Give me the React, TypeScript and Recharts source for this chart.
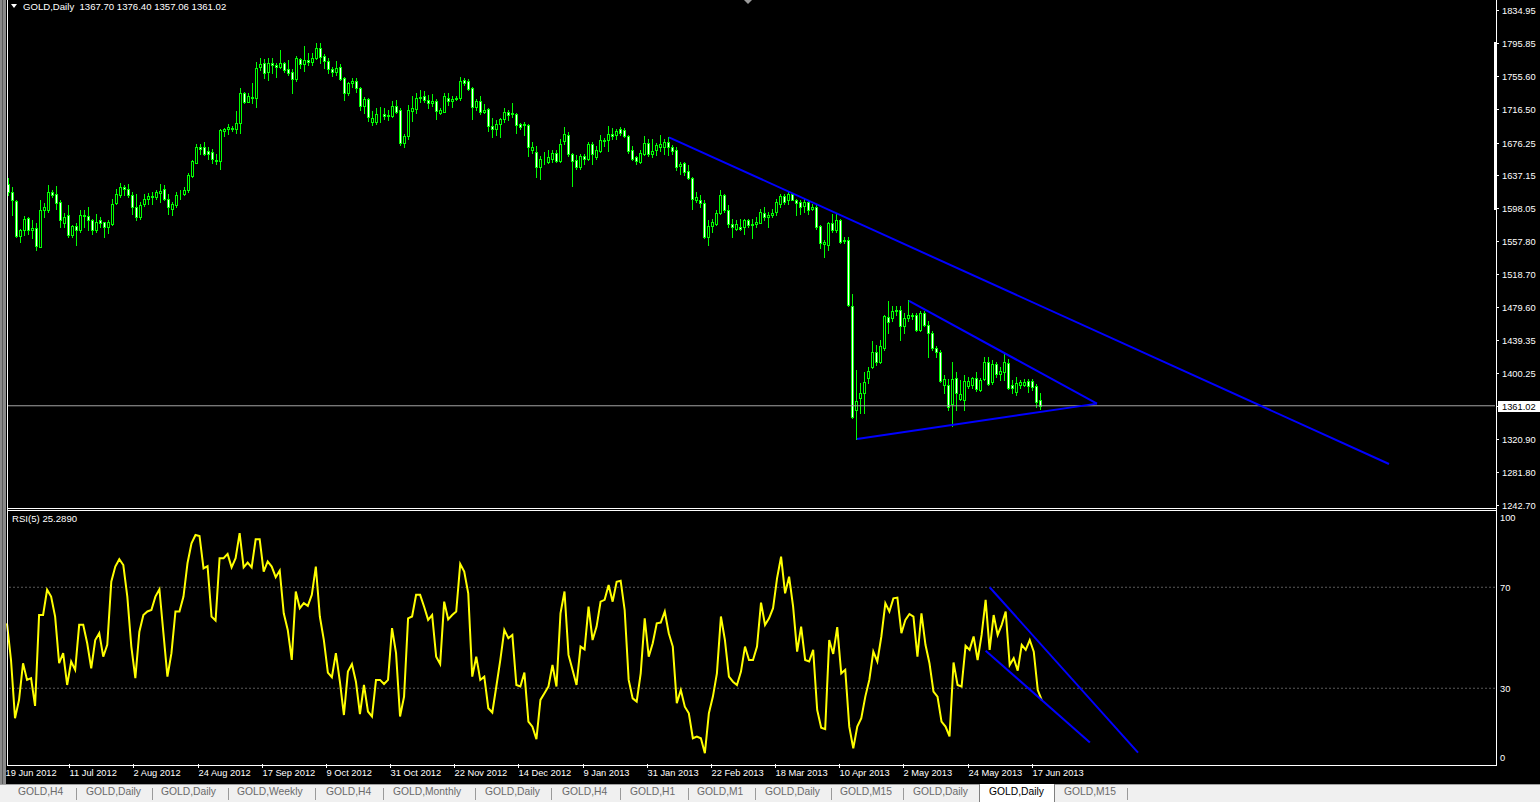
import { ComposedChart, LineChart, Bar, Line, XAxis, YAxis, ReferenceLine } from "recharts";

const FONT = '"Liberation Sans", Arial, sans-serif';

const SYMBOL = "GOLD,Daily";
const LAST_OHLC = ["1367.70", "1376.40", "1357.06", "1361.02"];
const BID = 1361.02;
const RSI_NAME = "RSI(5) 25.2890";

// daily bars, 19 Jun 2012 .. 19 Jun 2013
const OPEN = [
  1627, 1617, 1606, 1564, 1571, 1586, 1571, 1574, 1551, 1596,
  1595, 1617, 1615, 1605, 1580, 1589, 1566, 1576, 1571, 1589,
  1588, 1583, 1572, 1583, 1581, 1575, 1579, 1604, 1613, 1623,
  1621, 1614, 1599, 1587, 1603, 1609, 1612, 1611, 1616, 1621,
  1609, 1597, 1602, 1615, 1615, 1619, 1636, 1652, 1671, 1671,
  1666, 1665, 1655, 1654, 1690, 1692, 1694, 1692, 1700, 1735,
  1725, 1731, 1730, 1767, 1771, 1761, 1771, 1769, 1767, 1771,
  1764, 1761, 1752, 1776, 1770, 1775, 1773, 1777, 1789, 1780,
  1774, 1764, 1761, 1767, 1753, 1736, 1747, 1750, 1741, 1720,
  1728, 1701, 1701, 1711, 1711, 1708, 1708, 1720, 1715, 1676,
  1684, 1714, 1716, 1730, 1732, 1727, 1724, 1726, 1712, 1713,
  1730, 1726, 1728, 1729, 1751, 1750, 1742, 1719, 1726, 1713,
  1716, 1696, 1693, 1699, 1704, 1713, 1710, 1710, 1698, 1697,
  1697, 1667, 1665, 1647, 1656, 1653, 1657, 1664, 1654, 1678,
  1685, 1662, 1655, 1647, 1660, 1657, 1675, 1659, 1666, 1679,
  1679, 1687, 1685, 1692, 1691, 1684, 1667, 1659, 1653, 1663,
  1676, 1663, 1667, 1671, 1671, 1677, 1671, 1667, 1648, 1652,
  1642, 1634, 1607, 1608, 1604, 1563, 1576, 1579, 1592, 1613,
  1596, 1579, 1573, 1575, 1575, 1584, 1577, 1579, 1580, 1592,
  1587, 1590, 1593, 1603, 1612, 1607, 1615, 1608, 1605, 1600,
  1605, 1597, 1599, 1576, 1555, 1553, 1580, 1571, 1584, 1558,
  1560, 1481, 1356, 1370, 1376, 1394, 1408, 1426, 1413, 1430,
  1467, 1466, 1474, 1476, 1456, 1466, 1470, 1470, 1452, 1472,
  1458, 1448, 1430, 1425, 1386, 1386, 1363, 1394, 1369, 1368,
  1385, 1386, 1394, 1380, 1393, 1414, 1389, 1411, 1399, 1401,
  1412, 1386, 1377, 1386, 1386, 1391, 1391, 1385, 1367.7,
];

const HIGH = [
  1634, 1623, 1607, 1573, 1588, 1587, 1583, 1580, 1607, 1604,
  1625, 1620, 1624, 1607, 1592, 1601, 1577, 1580, 1596, 1595,
  1599, 1585, 1591, 1587, 1581, 1584, 1609, 1621, 1628, 1625,
  1627, 1617, 1615, 1605, 1615, 1616, 1617, 1619, 1627, 1625,
  1615, 1605, 1617, 1620, 1623, 1640, 1655, 1674, 1674, 1677,
  1671, 1669, 1663, 1692, 1694, 1698, 1696, 1714, 1741, 1737,
  1735, 1747, 1773, 1777, 1776, 1777, 1778, 1772, 1787, 1773,
  1775, 1764, 1780, 1778, 1792, 1784, 1784, 1795, 1795, 1782,
  1777, 1767, 1774, 1770, 1755, 1749, 1753, 1753, 1743, 1731,
  1730, 1714, 1717, 1719, 1717, 1715, 1726, 1727, 1717, 1686,
  1721, 1732, 1736, 1739, 1738, 1733, 1734, 1728, 1717, 1735,
  1736, 1732, 1732, 1755, 1753, 1752, 1743, 1728, 1732, 1722,
  1717, 1706, 1703, 1706, 1717, 1715, 1724, 1712, 1700, 1701,
  1699, 1677, 1672, 1660, 1665, 1667, 1667, 1667, 1680, 1695,
  1689, 1664, 1661, 1662, 1663, 1677, 1677, 1672, 1685, 1682,
  1696, 1694, 1692, 1695, 1694, 1685, 1672, 1660, 1667, 1684,
  1681, 1681, 1676, 1685, 1681, 1683, 1673, 1671, 1653, 1653,
  1649, 1635, 1617, 1613, 1607, 1584, 1585, 1596, 1619, 1615,
  1601, 1585, 1583, 1585, 1585, 1585, 1585, 1587, 1597, 1599,
  1593, 1597, 1609, 1615, 1615, 1617, 1616, 1609, 1607, 1609,
  1607, 1603, 1603, 1577, 1560, 1581, 1591, 1591, 1585, 1563,
  1563, 1495, 1404, 1388, 1402, 1407, 1438, 1434, 1440, 1470,
  1486, 1480, 1480, 1480, 1472, 1488, 1472, 1472, 1474, 1474,
  1462, 1450, 1432, 1428, 1398, 1393, 1414, 1401, 1392, 1398,
  1396, 1396, 1402, 1394, 1420, 1420, 1416, 1414, 1408, 1424,
  1417, 1392, 1396, 1392, 1393, 1393, 1393, 1387, 1376.4,
];

const LOW = [
  1613, 1589, 1563, 1557, 1565, 1567, 1562, 1547, 1551, 1587,
  1593, 1611, 1597, 1575, 1575, 1563, 1563, 1554, 1569, 1575,
  1571, 1567, 1569, 1575, 1563, 1568, 1577, 1603, 1611, 1613,
  1611, 1591, 1584, 1585, 1600, 1603, 1603, 1609, 1605, 1607,
  1591, 1589, 1599, 1609, 1613, 1617, 1635, 1652, 1663, 1661,
  1656, 1652, 1651, 1645, 1684, 1686, 1690, 1688, 1688, 1724,
  1725, 1723, 1719, 1763, 1754, 1751, 1759, 1755, 1765, 1761,
  1757, 1736, 1750, 1766, 1762, 1769, 1769, 1776, 1772, 1766,
  1759, 1756, 1757, 1751, 1727, 1733, 1743, 1737, 1715, 1712,
  1702, 1697, 1699, 1701, 1705, 1703, 1707, 1712, 1673, 1671,
  1681, 1702, 1712, 1725, 1725, 1717, 1720, 1704, 1710, 1713,
  1721, 1719, 1727, 1727, 1745, 1739, 1705, 1715, 1710, 1712,
  1690, 1683, 1685, 1683, 1701, 1703, 1707, 1688, 1693, 1685,
  1660, 1664, 1635, 1633, 1651, 1652, 1653, 1653, 1653, 1675,
  1660, 1624, 1644, 1645, 1651, 1655, 1651, 1656, 1665, 1672,
  1666, 1681, 1681, 1685, 1683, 1664, 1655, 1651, 1652, 1661,
  1660, 1659, 1661, 1666, 1663, 1661, 1663, 1643, 1639, 1637,
  1633, 1597, 1605, 1599, 1562, 1553, 1569, 1577, 1591, 1593,
  1575, 1563, 1571, 1571, 1567, 1575, 1562, 1575, 1580, 1583,
  1575, 1587, 1589, 1599, 1603, 1603, 1607, 1589, 1591, 1593,
  1591, 1595, 1573, 1550, 1539, 1547, 1569, 1569, 1556, 1556,
  1480, 1346, 1321, 1352, 1352, 1388, 1406, 1410, 1412, 1428,
  1448, 1463, 1470, 1440, 1448, 1462, 1465, 1450, 1450, 1456,
  1420, 1428, 1420, 1390, 1376, 1356, 1337, 1356, 1368, 1356,
  1382, 1382, 1379, 1379, 1392, 1386, 1387, 1396, 1392, 1392,
  1381, 1376, 1374, 1382, 1385, 1378, 1380, 1360, 1357.06,
];

const CLOSE = [
  1617, 1607, 1564, 1571, 1585, 1572, 1574, 1552, 1596, 1599,
  1617, 1614, 1604, 1583, 1587, 1566, 1576, 1571, 1589, 1588,
  1583, 1572, 1581, 1580, 1575, 1581, 1603, 1615, 1623, 1621,
  1613, 1599, 1587, 1602, 1609, 1612, 1611, 1617, 1618, 1609,
  1599, 1603, 1614, 1615, 1620, 1637, 1654, 1671, 1669, 1663,
  1663, 1656, 1654, 1691, 1692, 1695, 1692, 1700, 1735, 1725,
  1732, 1730, 1766, 1770, 1760, 1772, 1769, 1767, 1772, 1763,
  1760, 1752, 1777, 1770, 1775, 1773, 1777, 1790, 1779, 1774,
  1764, 1761, 1766, 1752, 1736, 1747, 1750, 1741, 1720, 1728,
  1707, 1706, 1711, 1710, 1708, 1709, 1720, 1713, 1676, 1684,
  1715, 1717, 1730, 1731, 1727, 1724, 1726, 1714, 1715, 1732,
  1726, 1728, 1730, 1750, 1748, 1740, 1719, 1726, 1713, 1715,
  1696, 1693, 1699, 1704, 1713, 1709, 1712, 1697, 1695, 1699,
  1671, 1671, 1647, 1656, 1657, 1659, 1664, 1654, 1675, 1686,
  1662, 1654, 1647, 1660, 1657, 1675, 1662, 1667, 1679, 1678,
  1687, 1684, 1690, 1688, 1684, 1666, 1657, 1654, 1664, 1676,
  1662, 1666, 1673, 1674, 1677, 1671, 1666, 1647, 1651, 1641,
  1634, 1609, 1611, 1604, 1563, 1576, 1581, 1592, 1613, 1595,
  1579, 1575, 1579, 1573, 1583, 1577, 1579, 1581, 1593, 1587,
  1589, 1592, 1605, 1612, 1605, 1615, 1608, 1604, 1599, 1605,
  1596, 1599, 1575, 1556, 1557, 1580, 1571, 1584, 1557, 1559,
  1482, 1347, 1367, 1376, 1390, 1403, 1426, 1413, 1432, 1468,
  1461, 1474, 1476, 1456, 1466, 1470, 1468, 1452, 1472, 1458,
  1448, 1430, 1425, 1391, 1393, 1359, 1393, 1376, 1375, 1391,
  1391, 1394, 1381, 1392, 1413, 1387, 1411, 1399, 1403, 1413,
  1382, 1382, 1388, 1389, 1390, 1385, 1384, 1366, 1361.02,
];

const RSI = [
  55.7, 41.2, 18.1, 25.4, 39.9, 33.3, 34.0, 23.0, 59.0, 59.0,
  69.0, 66.3, 58.4, 39.9, 43.9, 31.3, 40.6, 37.3, 55.1, 55.1,
  47.8, 37.9, 49.1, 51.8, 42.5, 47.2, 72.2, 78.2, 81.1, 78.8,
  66.3, 46.5, 34.0, 52.4, 59.0, 60.4, 61.0, 66.3, 69.2, 51.8,
  34.6, 43.9, 60.4, 60.4, 66.3, 79.5, 87.4, 90.7, 90.3, 77.5,
  78.4, 58.4, 56.8, 81.5, 81.5, 83.2, 77.9, 81.5, 91.4, 77.9,
  79.8, 77.9, 89.0, 89.0, 76.2, 80.2, 78.2, 74.0, 76.6, 59.7,
  53.1, 41.2, 68.3, 61.7, 63.7, 62.6, 67.0, 78.2, 58.4, 49.1,
  36.2, 34.4, 43.9, 32.6, 19.4, 36.6, 39.6, 32.6, 19.8, 31.3,
  20.8, 18.8, 33.3, 33.3, 31.7, 33.3, 53.8, 43.9, 18.8, 26.7,
  57.7, 58.4, 67.0, 67.0, 62.3, 57.1, 59.0, 42.5, 39.6, 64.3,
  57.3, 59.0, 60.4, 79.2, 76.2, 67.6, 34.6, 42.5, 33.3, 34.6,
  22.1, 20.4, 30.7, 41.2, 53.1, 49.8, 51.1, 31.3, 30.7, 36.2,
  16.8, 14.8, 9.8, 25.4, 28.0, 30.7, 39.2, 30.7, 59.7, 68.3,
  43.2, 37.3, 31.3, 46.5, 45.4, 62.3, 49.1, 54.4, 64.3, 65.0,
  70.9, 64.3, 72.2, 72.6, 61.0, 33.3, 26.0, 24.7, 35.9, 57.7,
  42.5, 47.8, 55.7, 56.0, 60.4, 51.8, 46.5, 24.1, 29.3, 22.7,
  20.1, 10.2, 10.9, 10.2, 4.3, 20.1, 26.7, 35.9, 58.4, 49.1,
  34.6, 32.6, 31.3, 36.6, 46.5, 41.2, 41.2, 46.5, 63.9, 55.1,
  57.7, 61.7, 73.6, 82.1, 67.6, 74.2, 62.3, 44.5, 54.4, 41.2,
  40.6, 45.2, 21.4, 14.4, 13.8, 49.1, 43.6, 54.2, 35.9, 37.3,
  14.8, 6.2, 14.8, 18.1, 26.7, 33.3, 44.5, 40.6, 50.5, 63.7,
  60.4, 65.6, 65.9, 51.8, 57.1, 59.4, 58.4, 42.5, 59.7, 47.2,
  39.9, 28.7, 26.7, 16.8, 14.8, 10.9, 40.2, 31.3, 30.7, 46.8,
  45.2, 50.5, 41.2, 51.1, 65.0, 45.2, 59.0, 51.1, 55.1, 60.4,
  39.2, 41.9, 37.0, 47.2, 45.2, 49.1, 44.5, 29.3, 25.289,
];

// bar slots shown across the window (the rest is empty space to the right)
const SLOTS = 372;

const PRICE_TICKS = [
  1834.95, 1795.85, 1755.6, 1716.5, 1676.25, 1637.15, 1598.05, 1557.8,
  1518.7, 1479.6, 1439.35, 1400.25, 1361.02, 1320.9, 1281.8, 1242.7,
];
const RSI_TICKS = [0, 30, 70, 100];

const DATE_TICKS = [0, 16, 32, 48, 64, 80, 96, 112, 128, 144, 160, 176, 192, 208, 224, 240, 256];
const DATE_LABELS = [
  "19 Jun 2012", "11 Jul 2012", "2 Aug 2012", "24 Aug 2012", "17 Sep 2012",
  "9 Oct 2012", "31 Oct 2012", "22 Nov 2012", "14 Dec 2012", "9 Jan 2013",
  "31 Jan 2013", "22 Feb 2013", "18 Mar 2013", "10 Apr 2013", "2 May 2013",
  "24 May 2013", "17 Jun 2013",
];

// hand drawn trend lines: [bar, price] -> [bar, price]
const PRICE_TRENDS = [
  [165, 1682.5, 345, 1291.3],
  [225, 1486.5, 272, 1363.6],
  [212, 1321.2, 272, 1363.6],
];
const RSI_TRENDS = [
  [245, 70, 282, 4.5],
  [244, 44.9, 270, 8.5],
];

const TABS = [
  { label: "GOLD,H4", x: 18 },
  { label: "GOLD,Daily", x: 86 },
  { label: "GOLD,Daily", x: 161 },
  { label: "GOLD,Weekly", x: 237 },
  { label: "GOLD,H4", x: 326 },
  { label: "GOLD,Monthly", x: 393 },
  { label: "GOLD,Daily", x: 485 },
  { label: "GOLD,H4", x: 562 },
  { label: "GOLD,H1", x: 630 },
  { label: "GOLD,M1", x: 697 },
  { label: "GOLD,Daily", x: 765 },
  { label: "GOLD,M15", x: 840 },
  { label: "GOLD,Daily", x: 913 },
  { label: "GOLD,Daily", x: 989, active: true },
  { label: "GOLD,M15", x: 1064 },
];
const TAB_SEPS = [76, 152, 228, 315, 383, 475, 551, 620, 688, 755, 831, 903, 1127];

const rows = Array.from({ length: SLOTS }, (_, i) => ({
  i,
  o: i < CLOSE.length ? OPEN[i] : null,
  h: i < CLOSE.length ? HIGH[i] : null,
  l: i < CLOSE.length ? LOW[i] : null,
  c: i < CLOSE.length ? CLOSE[i] : null,
  r: i < RSI.length ? RSI[i] : null,
}));

// eslint-disable-next-line @typescript-eslint/no-explicit-any
function Candle(props: any) {
  const { x, y, width, height, payload } = props;
  if (!payload || payload.h == null || !isFinite(x) || !isFinite(y)) return null;
  const { o, h, l, c } = payload;
  const cx = Math.floor(x + width / 2) + 0.5;
  const py = (p: number) => y + ((h - p) / (h - l || 1)) * height;
  const top = Math.round(py(Math.max(o, c))) + 0.5;
  const bot = Math.round(py(Math.min(o, c))) + 0.5;
  return (
    <g>
      <line x1={cx} x2={cx} y1={Math.round(y)} y2={Math.round(y + height) + 1} stroke="#00ff00" strokeWidth={1} />
      <rect
        x={cx - 1}
        y={top}
        width={2}
        height={Math.max(bot - top, 0)}
        fill={c >= o ? "#000000" : "#ffffff"}
        stroke="#00ff00"
        strokeWidth={1}
      />
    </g>
  );
}

// eslint-disable-next-line @typescript-eslint/no-explicit-any
function PriceTick({ x, y, payload }: any) {
  const v = payload.value as number;
  const yy = Math.round(y) + 0.5;
  const bid = v === BID;
  return (
    <g>
      <line x1={x + 1} x2={x + 4} y1={yy} y2={yy} stroke="#ffffff" />
      {bid && <rect x={x + 3} y={yy - 5.5} width={42} height={11} fill="#ffffff" />}
      <text x={x + 7} y={yy} dy={3.5} fill={bid ? "#000000" : "#ffffff"} fontSize={9.3} fontFamily={FONT}>
        {v.toFixed(2)}
      </text>
    </g>
  );
}

// eslint-disable-next-line @typescript-eslint/no-explicit-any
function RsiTick({ x, y, payload }: any) {
  const v = payload.value as number;
  const shift = v === 100 ? 6 : v === 0 ? -7 : 0;
  return (
    <text x={x + 5} y={y + shift} dy={3.5} fill="#ffffff" fontSize={9.3} fontFamily={FONT}>
      {v}
    </text>
  );
}

// eslint-disable-next-line @typescript-eslint/no-explicit-any
function DateTick({ x, y, payload }: any) {
  const k = DATE_TICKS.indexOf(payload.value);
  if (k < 0) return null;
  const bx = Math.round(x - 2) + 0.5;
  return (
    <g>
      <line x1={bx} x2={bx} y1={y} y2={y + 4} stroke="#ffffff" />
      <text x={bx} y={y + 12} fill="#ffffff" fontSize={9.3} fontFamily={FONT}>
        {DATE_LABELS[k]}
      </text>
    </g>
  );
}

const abs = (left: number, top: number, width: number, height: number, bg: string) => ({
  position: "absolute" as const,
  left,
  top,
  width,
  height,
  background: bg,
});

export default function App() {
  return (
    <div style={{ position: "absolute", left: 0, top: 0, width: 1540, height: 802, background: "#000", overflow: "hidden", fontFamily: FONT }}>
      <div style={{ position: "absolute", left: 0, top: 0 }}>
        <ComposedChart width={1540} height={512} data={rows} margin={{ top: 2, right: 0, bottom: 4, left: 7 }}>
          <XAxis dataKey="i" type="category" hide />
          <YAxis
            orientation="right"
            width={45}
            domain={[1238.6, 1844.53]}
            allowDataOverflow
            ticks={PRICE_TICKS}
            interval={0}
            axisLine={false}
            tickLine={false}
            tickSize={0}
            tickMargin={0}
            tick={PriceTick}
          />
          <ReferenceLine y={BID} stroke="#a4a4a4" strokeWidth={1} />
          <Bar dataKey={(d: { l: number | null; h: number | null }) => (d.h == null ? null : [d.l, d.h])} shape={Candle} isAnimationActive={false} />
          {PRICE_TRENDS.map((t, k) => (
            <ReferenceLine
              key={k}
              segment={[{ x: t[0], y: t[1] }, { x: t[2], y: t[3] }]}
              stroke="#0000ff"
              strokeWidth={2}
            />
          ))}
        </ComposedChart>
      </div>

      <div style={{ position: "absolute", left: 0, top: 508 }}>
        <LineChart width={1540} height={280} data={rows} margin={{ top: 3.5, right: 0, bottom: 4, left: 7 }}>
          <XAxis
            dataKey="i"
            type="category"
            height={20}
            ticks={DATE_TICKS}
            interval={0}
            axisLine={false}
            tickLine={false}
            tickSize={0}
            tickMargin={0}
            tick={DateTick}
          />
          <YAxis
            orientation="right"
            width={45}
            domain={[0, 100]}
            allowDataOverflow
            ticks={RSI_TICKS}
            interval={0}
            axisLine={false}
            tickLine={false}
            tickSize={0}
            tickMargin={0}
            tick={RsiTick}
          />
          <ReferenceLine y={70} stroke="#5a5a5a" strokeDasharray="2 2" />
          <ReferenceLine y={30} stroke="#5a5a5a" strokeDasharray="2 2" />
          <Line dataKey="r" stroke="#ffff00" strokeWidth={2} dot={false} isAnimationActive={false} />
          {RSI_TRENDS.map((t, k) => (
            <ReferenceLine
              key={k}
              segment={[{ x: t[0], y: t[1] }, { x: t[2], y: t[3] }]}
              stroke="#0000ff"
              strokeWidth={2}
            />
          ))}
        </LineChart>
      </div>

      {/* window frame */}
      <div style={abs(0, 0, 6, 784, "#8a8a8a")} />
      <div style={abs(2, 0, 1, 784, "#5c5c5c")} />
      <div style={abs(7, 0, 1, 766, "#ffffff")} />
      <div style={abs(1496, 0, 1, 766, "#ffffff")} />
      <div style={abs(1494, 42, 3, 168, "#ffffff")} />
      <div style={abs(7, 508, 1490, 1, "#ffffff")} />
      <div style={abs(7, 510, 1490, 1, "#ffffff")} />
      <div style={abs(7, 765, 1490, 1, "#ffffff")} />

      {/* chart shift marker */}
      <svg style={{ position: "absolute", left: 744, top: 0 }} width={9} height={5}>
        <polygon points="0,0 8,0 4,4" fill="#9a9a9a" />
      </svg>

      {/* header */}
      <svg style={{ position: "absolute", left: 11, top: 4 }} width={7} height={5}>
        <polygon points="0,0 6,0 3,4" fill="#ffffff" />
      </svg>
      <div style={{ position: "absolute", left: 23, top: 1, color: "#fff", fontSize: 9.6, whiteSpace: "pre" }}>
        {SYMBOL + "  " + LAST_OHLC.join(" ")}
      </div>
      <div style={{ position: "absolute", left: 12, top: 513, color: "#fff", fontSize: 9.6, whiteSpace: "pre" }}>
        {RSI_NAME}
      </div>

      {/* tab bar */}
      <div style={abs(0, 784, 1540, 18, "#f0f0f0")} />
      <div style={abs(0, 784, 1540, 1, "#a0a0a0")} />
      {TAB_SEPS.map((x) => (
        <div key={x} style={abs(x, 788, 1, 12, "#9a9a9a")} />
      ))}
      <div style={{ ...abs(979, 784, 76, 18, "#ffffff"), borderLeft: "1px solid #808080", borderRight: "1px solid #808080", boxSizing: "border-box" }} />
      {TABS.map((t, k) => (
        <div
          key={k}
          style={{
            position: "absolute",
            left: t.x,
            top: 786,
            fontSize: 10.3,
            color: t.active ? "#000000" : "#6a6a6a",
            whiteSpace: "pre",
          }}
        >
          {t.label}
        </div>
      ))}
    </div>
  );
}
